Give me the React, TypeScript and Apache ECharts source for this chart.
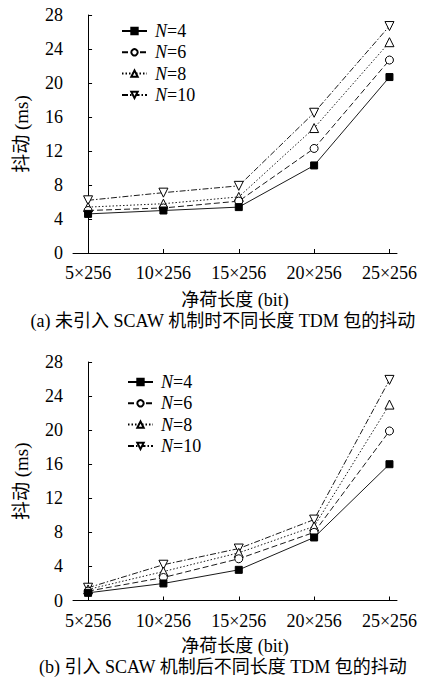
import React, { useEffect, useRef } from "react";
import * as echarts from "echarts";

const categories = ["5×256", "10×256", "15×256", "20×256", "25×256"];
const seriesNames = ["N=4", "N=6", "N=8", "N=10"];
const yTicks = [0, 4, 8, 12, 16, 20, 24, 28];

const a4 = [4.6, 5.0, 5.4, 10.3, 20.7];
const a6 = [5.0, 5.3, 6.1, 12.3, 22.7];
const a8 = [5.4, 5.8, 6.6, 14.7, 24.8];
const a10 = [6.2, 7.1, 7.9, 16.5, 26.7];

const b4 = [0.9, 2.0, 3.6, 7.4, 16.0];
const b6 = [1.1, 2.7, 4.9, 8.0, 19.9];
const b8 = [1.3, 3.4, 5.6, 8.7, 23.0];
const b10 = [1.5, 4.2, 6.1, 9.5, 25.9];

const captionA = "(a) 未引入 SCAW 机制时不同长度 TDM 包的抖动";
const captionB = "(b) 引入 SCAW 机制后不同长度 TDM 包的抖动";
const xName = "净荷长度 (bit)";
const yName = "抖动 (ms)";

const FONT = "'Liberation Serif', 'Noto Sans CJK SC', serif";

export default function App() {
  const ref = useRef<HTMLDivElement>(null);
  useEffect(() => {
    if (!ref.current) return;
    const chart = echarts.init(ref.current, undefined, { renderer: "svg" });

    const styles = [
      { symbol: "rect", size: 7, fill: "#000", rotate: 0, type: "solid" as any },
      { symbol: "circle", size: 8, fill: "#fff", rotate: 0, type: [6, 3] },
      { symbol: "triangle", size: 9, fill: "#fff", rotate: 0, type: [1.5, 2] },
      { symbol: "triangle", size: 9, fill: "#fff", rotate: 180, type: [6, 2, 1.5, 2] },
    ];
    const groupA = [a4, a6, a8, a10];
    const groupB = [b4, b6, b8, b10];

    const mkSeries = (vals: number[][], axis: number) =>
      vals.map((v, k) => ({
        name: seriesNames[k],
        type: "line",
        xAxisIndex: axis,
        yAxisIndex: axis,
        data: v.map((y, i) => [i, y]),
        symbol: styles[k].symbol,
        symbolSize: styles[k].size,
        symbolRotate: styles[k].rotate,
        showAllSymbol: true,
        lineStyle: { color: "#000", width: 0.9, type: styles[k].type },
        itemStyle: { color: styles[k].fill, borderColor: "#000", borderWidth: 1 },
        z: 10 - k,
      }));

    const xAxisBase = (gi: number, gap: number) => ({
      type: "value",
      gridIndex: gi,
      min: -0.2,
      max: 4.1,
      name: xName,
      nameLocation: "middle",
      nameGap: gap,
      nameTextStyle: { fontFamily: FONT, fontSize: 18, color: "#000" },
      axisLine: { show: true, lineStyle: { color: "#000", width: 1 } },
      axisTick: { show: true, inside: true, length: 4, customValues: [0, 1, 2, 3, 4], lineStyle: { color: "#000" } },
      axisLabel: {
        customValues: [0, 1, 2, 3, 4],
        formatter: (v: number) => categories[Math.round(v)],
        fontFamily: FONT,
        fontSize: 18,
        color: "#000",
        margin: 11,
      },
      splitLine: { show: false },
    });
    const yAxisBase = (gi: number) => ({
      type: "value",
      gridIndex: gi,
      min: 0,
      max: 28,
      interval: 4,
      name: yName,
      nameLocation: "middle",
      nameGap: 42,
      nameRotate: 90,
      nameTextStyle: { fontFamily: FONT, fontSize: 19, color: "#000" },
      axisLine: { show: true, lineStyle: { color: "#000", width: 1 } },
      axisTick: { show: true, inside: true, length: 4, lineStyle: { color: "#000" } },
      axisLabel: {
        fontFamily: FONT,
        fontSize: 18,
        color: "#000",
        margin: 10,
        formatter: (v: number) => (yTicks.includes(v) ? String(v) : ""),
      },
      splitLine: { show: false },
    });

    const legendBase = (left: number, top: number) => ({
      orient: "vertical",
      left,
      top,
      itemWidth: 25,
      itemHeight: 8,
      itemGap: 3.3,
      data: seriesNames,
      selectedMode: false,
      formatter: (name: string) => `{i|N}{r|${name.slice(1)}}`,
      textStyle: {
        rich: {
          i: { fontFamily: FONT, fontSize: 18, fontStyle: "italic", color: "#000", padding: [0, 0, 0, 3], lineHeight: 17 },
          r: { fontFamily: FONT, fontSize: 18, color: "#000", lineHeight: 17 },
        },
      },
    });

    chart.setOption({
      animation: false,
      backgroundColor: "#fff",
      grid: [
        { left: 73, top: 15, width: 324, height: 238 },
        { left: 73, top: 362, width: 324, height: 238.5 },
      ],
      xAxis: [xAxisBase(0, 38), xAxisBase(1, 36)],
      yAxis: [yAxisBase(0), yAxisBase(1)],
      legend: [legendBase(116, 17), legendBase(122, 368)],
      series: [...mkSeries(groupA, 0), ...mkSeries(groupB, 1)],
      graphic: [
        {
          type: "text",
          left: "center",
          top: 312,
          style: { text: captionA, font: `18px ${FONT}`, fill: "#000" },
        },
        {
          type: "text",
          left: "center",
          top: 658,
          style: { text: captionB, font: `18px ${FONT}`, fill: "#000" },
        },
      ],
    });
    return () => chart.dispose();
  }, []);
  return (
    <div
      ref={ref}
      style={{ position: "fixed", left: 0, top: 0, width: 446, height: 686, background: "#fff" }}
    />
  );
}
